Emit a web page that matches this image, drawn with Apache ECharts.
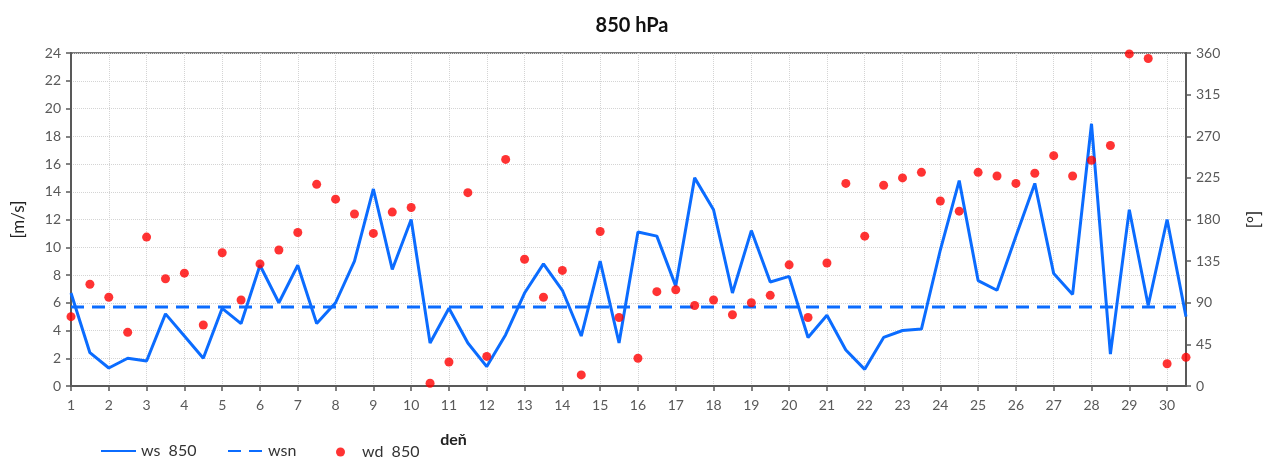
<!DOCTYPE html>
<html>
<head>
<meta charset="utf-8">
<script src="https://cdn.jsdelivr.net/npm/echarts@6/dist/echarts.min.js"></script>
<style>
html,body{margin:0;padding:0;background:#fff;}
#c{width:1264px;height:457px;}
</style>
</head>
<body>
<div id="c"></div>
<script>
const days = [1,1.5,2,2.5,3,3.5,4,4.5,5,5.5,6,6.5,7,7.5,8,8.5,9,9.5,10,10.5,
  11,11.5,12,12.5,13,13.5,14,14.5,15,15.5,16,16.5,17,17.5,18,18.5,19,19.5,20,20.5,
  21,21.5,22,22.5,23,23.5,24,24.5,25,25.5,26,26.5,27,27.5,28,28.5,29,29.5,30,30.5];
const ws850 = [6.7,2.4,1.3,2.0,1.8,5.2,3.6,2.0,5.6,4.5,8.7,6.0,8.7,4.5,6.0,9.0,14.2,8.4,12.0,3.1,
  5.6,3.1,1.4,3.7,6.7,8.8,6.9,3.6,9.0,3.1,11.1,10.8,7.2,15.0,12.7,6.7,11.2,7.5,7.9,3.5,
  5.1,2.6,1.2,3.5,4.0,4.1,9.8,14.8,7.6,6.9,10.8,14.6,8.1,6.6,18.9,2.3,12.7,5.8,12.0,5.0];
const wsn = [5.7,5.7,5.7,5.7,5.7,5.7,5.7,5.7,5.7,5.7,5.7,5.7,5.7,5.7,5.7,5.7,5.7,5.7,5.7,5.7,
  5.7,5.7,5.7,5.7,5.7,5.7,5.7,5.7,5.7,5.7,5.7,5.7,5.7,5.7,5.7,5.7,5.7,5.7,5.7,5.7,
  5.7,5.7,5.7,5.7,5.7,5.7,5.7,5.7,5.7,5.7,5.7,5.7,5.7,5.7,5.7,5.7,5.7,5.7,5.7,5.7];
const wd850 = [75,110,96,58,161,116,122,66,144,93,132,147,166,218,202,186,165,188,193,3,
  26,209,32,245,137,96,125,12,167,74,30,102,104,87,93,77,90,98,131,74,
  133,219,162,217,225,231,200,189,231,227,219,230,249,227,244,260,359,354,24,31];
const leftTicks = {min:0, max:24, interval:2};
const rightTicks = {min:0, max:360, interval:45};

const FONT = 'Lato, "Noto Sans", sans-serif';
const BLUE = '#0b6cff';
const AX = '#595959';

const chart = echarts.init(document.getElementById('c'), null, {renderer:'canvas'});
chart.setOption({
  animation:false,
  textStyle:{fontFamily:FONT},
  title:{text:'850 hPa', left:'center', top:11,
    textStyle:{fontFamily:FONT, fontSize:20, fontWeight:'bold', color:'#111'}},
  grid:{left:71, right:78, top:53, bottom:71, show:true, borderColor:'#7a7a7a', borderWidth:2,
    containLabel:false, outerBoundsMode:'none'},
  legend:[
    {data:['ws  850'], left:95, top:438, itemWidth:35, itemHeight:10,
      itemStyle:{opacity:0},
      textStyle:{fontFamily:FONT, fontSize:16, color:'#333'}},
    {data:['wsn'], left:222, top:438, itemWidth:35, itemHeight:10,
      itemStyle:{opacity:0},
      textStyle:{fontFamily:FONT, fontSize:16, color:'#333'}},
    {data:['wd  850'], left:331, top:439, itemWidth:9, itemHeight:9, icon:'circle',
      textStyle:{fontFamily:FONT, fontSize:16, color:'#333', padding:[0,0,0,12]}}
  ],
  xAxis:{type:'value', min:1, max:30.5, interval:1,
    name:'deň', nameLocation:'middle', nameGap:0,
    nameTextStyle:{fontFamily:FONT, fontSize:16, fontWeight:'bold', color:'#222', padding:[46,0,0,-350]},
    axisLine:{lineStyle:{color:AX, width:2}},
    axisTick:{show:true, inside:false, length:5, lineStyle:{color:AX, width:1.5}},
    axisLabel:{color:AX, fontSize:14, margin:12, showMaxLabel:false,
      formatter:v => (Number.isInteger(v) ? String(v) : '')},
    splitLine:{show:true, lineStyle:{color:'#d4d4d4', type:'dotted', width:1}}
  },
  yAxis:[
    {type:'value', min:leftTicks.min, max:leftTicks.max, interval:leftTicks.interval, position:'left',
      name:'[m/s]', nameLocation:'middle', nameGap:44, nameRotate:90,
      nameTextStyle:{fontFamily:FONT, fontSize:17, color:'#222'},
      axisLine:{show:true, lineStyle:{color:AX, width:2}},
      axisTick:{show:true, inside:false, length:5, lineStyle:{color:AX, width:1.5}},
      axisLabel:{color:AX, fontSize:14, margin:10},
      splitLine:{show:true, lineStyle:{color:'#d4d4d4', type:'dotted', width:1}}
    },
    {type:'value', min:rightTicks.min, max:rightTicks.max, interval:rightTicks.interval, position:'right',
      name:'[°]', nameLocation:'middle', nameGap:60, nameRotate:90,
      nameTextStyle:{fontFamily:FONT, fontSize:17, color:'#222'},
      axisLine:{show:true, lineStyle:{color:AX, width:2}},
      axisTick:{show:true, inside:false, length:5, lineStyle:{color:AX, width:1.5}},
      axisLabel:{color:AX, fontSize:14, margin:10},
      splitLine:{show:false}
    }
  ],
  series:[
    {name:'ws  850', type:'line', yAxisIndex:0, showSymbol:false, symbol:'none',
      data:days.map((d,i)=>[d, ws850[i]]),
      lineStyle:{color:BLUE, width:3}, itemStyle:{color:BLUE}, z:3},
    {name:'wsn', type:'line', yAxisIndex:0, showSymbol:false, symbol:'none',
      data:days.map((d,i)=>[d, wsn[i]]),
      lineStyle:{color:BLUE, width:3, type:[13,8]}, itemStyle:{color:BLUE}, z:2},
    {name:'wd  850', type:'scatter', yAxisIndex:1, symbol:'circle', symbolSize:9,
      data:days.map((d,i)=>[d, wd850[i]]),
      itemStyle:{color:'#ff0000'}, z:4}
  ]
});
</script>
</body>
</html>
